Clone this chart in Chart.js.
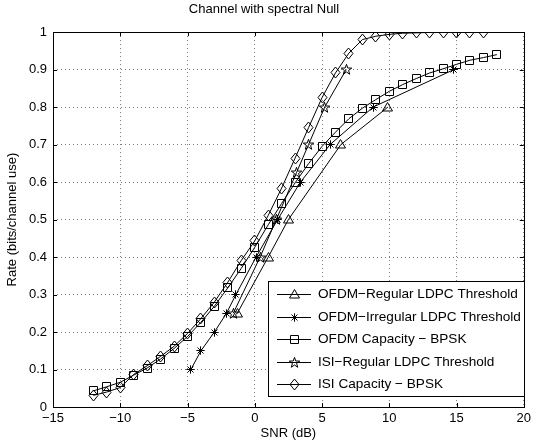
<!DOCTYPE html>
<html>
<head>
<meta charset="utf-8">
<script src="https://cdn.jsdelivr.net/npm/chart.js@4.4.0/dist/chart.umd.min.js"></script>
<style>
html, body { margin: 0; padding: 0; background: #fff; }
</style>
</head>
<body>
<canvas id="chart" width="535" height="441"></canvas>
<script>
// values
var snrOfdmCap = [-12, -11, -10, -9, -8, -7, -6, -5, -4, -3, -2, -1, 0, 1, 2, 3, 4, 5, 6, 7, 8, 9, 10, 11, 12, 13, 14, 15, 16, 17, 18]
var ofdmCap = [0.043, 0.054, 0.066, 0.085, 0.104, 0.128, 0.156, 0.188, 0.226, 0.269, 0.318, 0.370, 0.426, 0.486, 0.543, 0.598, 0.649, 0.695, 0.733, 0.769, 0.797, 0.820, 0.842, 0.860, 0.876, 0.891, 0.902, 0.914, 0.925, 0.932, 0.940]

var snrIsiCap = [-12, -11, -10, -9, -8, -7, -6, -5, -4, -3, -2, -1, 0, 1, 2, 3, 4, 5, 6, 7, 8, 9, 10, 11, 12, 13, 14, 15, 16, 17]
var isiCap = [0.031, 0.040, 0.052, 0.087, 0.110, 0.135, 0.162, 0.196, 0.236, 0.280, 0.333, 0.391, 0.443, 0.511, 0.584, 0.664, 0.745, 0.825, 0.891, 0.944, 0.980, 0.989, 0.994, 0.997, 0.998, 0.999, 1, 1, 1, 1]

var snrOfdmReg = [-1.3, 1.0, 2.5, 6.4, 9.9]
var ofdmReg = [0.25, 0.4, 0.5, 0.7, 0.8]

var snrOfdmIrr = [-4.75, -4.0, -3.0, -2.1, -1.4, 0.1, 1.7, 3.4, 5.6, 8.8, 14.8]
var ofdmIrr = [0.1, 0.15, 0.2, 0.25, 0.3, 0.4, 0.5, 0.6, 0.7, 0.8, 0.9]

var snrIsiReg = [-1.6, 0.4, 1.6, 3.1, 4.0, 5.2, 6.8]
var isiReg = [0.25, 0.4, 0.5, 0.625, 0.7, 0.8, 0.9]

var seriesNames = ['OFDM\u2212Regular LDPC Threshold', 'OFDM\u2212Irregular LDPC Threshold', 'OFDM Capacity \u2212 BPSK', 'ISI\u2212Regular LDPC Threshold', 'ISI Capacity \u2212 BPSK']

var FONT = 'Liberation Sans, Arial, Helvetica, sans-serif'

function toPoints(xs, ys) {
    var pts = []
    for (var i = 0; i < xs.length; i++) {
        pts.push({x: xs[i], y: ys[i]})
    }
    return pts
}

// open black markers, drawn once into small canvases
function makeMarker(type) {
    var c = document.createElement('canvas')
    c.width = 15
    c.height = 15
    var g = c.getContext('2d')
    g.strokeStyle = '#000'
    g.lineWidth = 1
    g.beginPath()
    if (type == 'triangle') {
        g.moveTo(7.5, 2.5)
        g.lineTo(12.5, 11)
        g.lineTo(2.5, 11)
        g.closePath()
    } else if (type == 'square') {
        g.rect(3.5, 3.5, 8, 8)
    } else if (type == 'diamond') {
        g.moveTo(7.5, 2)
        g.lineTo(12, 7.5)
        g.lineTo(7.5, 13)
        g.lineTo(3, 7.5)
        g.closePath()
    } else if (type == 'asterisk') {
        for (var a = 0; a < 4; a++) {
            var ang = a * Math.PI / 4
            var dx = Math.cos(ang) * 4.2, dy = Math.sin(ang) * 4.2
            g.moveTo(7.5 - dx, 7.5 - dy)
            g.lineTo(7.5 + dx, 7.5 + dy)
        }
    } else if (type == 'pentagram') {
        for (var k = 0; k < 10; k++) {
            var r = k % 2 == 0 ? 5.5 : 2.2
            var t = -Math.PI / 2 + k * Math.PI / 5
            var px = 7.5 + r * Math.cos(t), py = 7.8 + r * Math.sin(t)
            if (k == 0) g.moveTo(px, py)
            else g.lineTo(px, py)
        }
        g.closePath()
    }
    g.stroke()
    return c
}

var markers = [makeMarker('triangle'), makeMarker('asterisk'), makeMarker('square'), makeMarker('pentagram'), makeMarker('diamond')]

function lineSet(label, pts, marker) {
    return {
        label: label,
        data: pts,
        borderColor: '#000',
        borderWidth: 1,
        backgroundColor: 'transparent',
        pointStyle: marker,
        pointRadius: 5,
        tension: 0,
        fill: false
    }
}

var datasets = [
    lineSet(seriesNames[0], toPoints(snrOfdmReg, ofdmReg), markers[0]),
    lineSet(seriesNames[1], toPoints(snrOfdmIrr, ofdmIrr), markers[1]),
    lineSet(seriesNames[2], toPoints(snrOfdmCap, ofdmCap), markers[2]),
    lineSet(seriesNames[3], toPoints(snrIsiReg, isiReg), markers[3]),
    lineSet(seriesNames[4], toPoints(snrIsiCap, isiCap), markers[4])
]

// keep the marker images crisp
var crispPlugin = {
    id: 'crisp',
    beforeDatasetsDraw: function(chart) {
        chart.ctx.imageSmoothingEnabled = false
    }
}

// box round the axes plus small inward ticks, matlab style
var framePlugin = {
    id: 'frame',
    afterDatasetsDraw: function(chart) {
        var ctx = chart.ctx
        var a = chart.chartArea
        var xs = chart.scales.x, ys = chart.scales.y
        ctx.save()
        ctx.strokeStyle = '#000'
        ctx.lineWidth = 1
        ctx.beginPath()
        xs.ticks.forEach(function(t) {
            var px = Math.round(xs.getPixelForValue(t.value)) + 0.5
            ctx.moveTo(px, a.bottom); ctx.lineTo(px, a.bottom - 4)
            ctx.moveTo(px, a.top); ctx.lineTo(px, a.top + 4)
        })
        ys.ticks.forEach(function(t) {
            var py = Math.round(ys.getPixelForValue(t.value)) + 0.5
            ctx.moveTo(a.left, py); ctx.lineTo(a.left + 4, py)
            ctx.moveTo(a.right, py); ctx.lineTo(a.right - 4, py)
        })
        ctx.stroke()
        ctx.strokeRect(Math.round(a.left) + 0.5, Math.round(a.top) + 0.5, Math.round(a.right - a.left), Math.round(a.bottom - a.top))
        ctx.restore()
    }
}

// legend box inside the plot, lower right
var legendPlugin = {
    id: 'boxLegend',
    afterDraw: function(chart) {
        var ctx = chart.ctx
        var bx = 268.5, by = 281.5, bw = 256, bh = 115
        ctx.save()
        ctx.imageSmoothingEnabled = false
        ctx.fillStyle = '#fff'
        ctx.fillRect(bx, by, bw, bh)
        ctx.strokeStyle = '#000'
        ctx.lineWidth = 1
        ctx.strokeRect(bx, by, bw, bh)
        ctx.font = '13.6px ' + FONT
        ctx.textBaseline = 'middle'
        ctx.fillStyle = '#000'
        for (var i = 0; i < seriesNames.length; i++) {
            var y = Math.round(294 + i * 22.5) + 0.5
            ctx.beginPath()
            ctx.moveTo(277, y)
            ctx.lineTo(311, y)
            ctx.stroke()
            ctx.drawImage(markers[i], 294 - 7.5, y - 7.5)
            ctx.fillText(seriesNames[i], 318, y)
        }
        ctx.restore()
    }
}

var ctx = document.getElementById('chart')
var myChart = new Chart(ctx, {
    type: 'line',
    data: { datasets: datasets },
    plugins: [crispPlugin, framePlugin, legendPlugin],
    options: {
        responsive: false,
        animation: false,
        events: [],
        layout: { padding: { left: 0, right: 7, top: 0, bottom: 0 } },
        plugins: {
            legend: { display: false },
            tooltip: { enabled: false },
            title: {
                display: true,
                text: 'Channel with spectral Null',
                color: '#000',
                font: { family: FONT, size: 13, weight: 'normal' },
                padding: { top: 1.5, bottom: 15 }
            }
        },
        scales: {
            x: {
                type: 'linear',
                min: -15,
                max: 20,
                ticks: {
                    stepSize: 5,
                    color: '#000',
                    font: { family: FONT, size: 13 },
                    padding: 4,
                    maxRotation: 0,
                    callback: function(v) { return String(v).replace('-', '\u2212') }
                },
                grid: { color: '#777', drawTicks: false },
                border: { display: false, dash: [1, 3] },
                title: {
                    display: true,
                    text: 'SNR (dB)',
                    color: '#000',
                    font: { family: FONT, size: 13 },
                    padding: { top: 0, bottom: 0 }
                },
                afterFit: function(s) { s.height = 34 }
            },
            y: {
                min: 0,
                max: 1,
                ticks: {
                    stepSize: 0.1,
                    color: '#000',
                    font: { family: FONT, size: 13 },
                    padding: 6,
                    callback: function(v) { return String(Number(v.toFixed(1))) }
                },
                grid: { color: '#777', drawTicks: false },
                border: { display: false, dash: [1, 3] },
                title: {
                    display: true,
                    text: 'Rate (bits/channel use)',
                    color: '#000',
                    font: { family: FONT, size: 13 },
                    padding: { top: 5, bottom: 0 }
                },
                afterFit: function(s) { s.width = 53 }
            }
        }
    }
})
</script>
</body>
</html>
